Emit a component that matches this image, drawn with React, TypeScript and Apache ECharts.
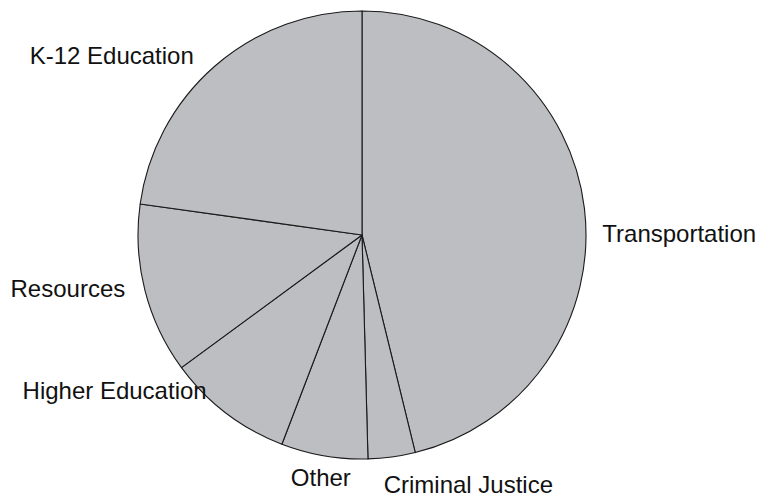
import React, { useEffect, useRef } from "react";
import * as echarts from "echarts";

const categories = [
  "Transportation",
  "Criminal Justice",
  "Other",
  "Higher Education",
  "Resources",
  "K-12 Education",
];
const shares = [46.2, 3.4, 6.25, 9.1, 12.3, 22.8];

// label nudges (styling only), per slice, in px
const labelNudgeX = [-1, -15, 34, -6, -1, -7];
const labelNudgeY = [27, 14, 8, -34, -5, 0];

export default function App() {
  const ref = useRef<HTMLDivElement>(null);
  useEffect(() => {
    document.body.style.margin = "0";
    const chart = echarts.init(ref.current!, undefined, { renderer: "svg" });
    chart.setOption({
      animation: false,
      backgroundColor: "#ffffff",
      series: [
        {
          type: "pie",
          center: [362, 235],
          radius: 224,
          startAngle: 90,
          clockwise: true,
          avoidLabelOverlap: false,
          data: categories.map((name, i) => ({ name, value: shares[i] })),
          itemStyle: {
            color: "#bdbec2",
            borderColor: "#1a1a1a",
            borderWidth: 1.1,
          },
          emphasis: { disabled: true },
          label: {
            show: true,
            position: "outside",
            formatter: "{b}",
            fontFamily: "'Liberation Sans', Arial, Helvetica, sans-serif",
            fontSize: 24,
            lineHeight: 20,
            color: "#111111",
            distanceToLabelLine: 5,
          },
          labelLine: { show: false, length: 14, length2: 0 },
          labelLayout: (params: any) => ({
            dx: labelNudgeX[params.dataIndex],
            dy: labelNudgeY[params.dataIndex],
          }),
        },
      ],
    });
    return () => chart.dispose();
  }, []);
  return <div ref={ref} style={{ width: 759, height: 499 }} />;
}
